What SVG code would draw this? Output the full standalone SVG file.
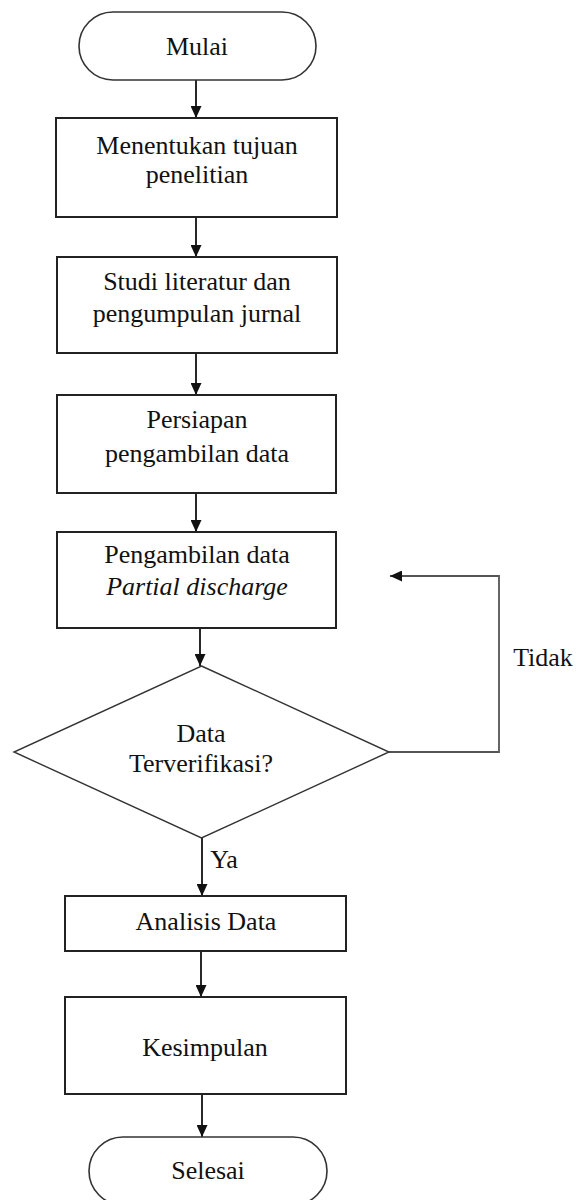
<svg xmlns="http://www.w3.org/2000/svg" width="577" height="1200" viewBox="0 0 577 1200">
<style>
text{font-size:26px;fill:#111;text-anchor:middle}
.box{fill:#fff;stroke:#222;stroke-width:2}
.term{fill:#fff;stroke:#333;stroke-width:1.6}
.dia{fill:#fff;stroke:#333;stroke-width:1.4}
.ln{fill:none;stroke:#111;stroke-width:1.8}
.loop{fill:none;stroke:#555;stroke-width:1.8}
</style>
<defs>
<marker id="ah" markerUnits="userSpaceOnUse" markerWidth="12" markerHeight="11" refX="12" refY="5.5" orient="auto">
<path d="M0,0 L12,5.5 L0,11 z" fill="#111"/>
</marker>
</defs>
<g font-family="'Liberation Serif', 'DejaVu Serif', serif">
<g id="connectors">
<line class="ln" x1="196" y1="80" x2="196" y2="118" marker-end="url(#ah)"/>
<line class="ln" x1="196" y1="217" x2="196" y2="257" marker-end="url(#ah)"/>
<line class="ln" x1="196" y1="353" x2="196" y2="395" marker-end="url(#ah)"/>
<line class="ln" x1="196" y1="493" x2="196" y2="532" marker-end="url(#ah)"/>
<line class="ln" x1="200" y1="628" x2="200" y2="666" marker-end="url(#ah)"/>
<line class="ln" x1="202" y1="838" x2="202" y2="896" marker-end="url(#ah)"/>
<line class="ln" x1="201" y1="951" x2="201" y2="997" marker-end="url(#ah)"/>
<line class="ln" x1="202" y1="1094" x2="202" y2="1137" marker-end="url(#ah)"/>
<polyline class="loop" points="389,752 499,752 499,576 390,576" marker-end="url(#ah)"/>
<text x="224" y="868">Ya</text>
<text x="543" y="666">Tidak</text>
</g>
<g id="mulai">
<rect class="term" x="79" y="12" width="237" height="68" rx="34" ry="34"/>
<text x="197" y="55">Mulai</text>
</g>
<g id="tujuan">
<rect class="box" x="56" y="118" width="281" height="99"/>
<text x="197" y="154">Menentukan tujuan</text>
<text x="197" y="183">penelitian</text>
</g>
<g id="studi">
<rect class="box" x="57" y="257" width="280" height="96"/>
<text x="197" y="290">Studi literatur dan</text>
<text x="197" y="322">pengumpulan jurnal</text>
</g>
<g id="persiapan">
<rect class="box" x="57" y="395" width="279" height="98"/>
<text x="197" y="428">Persiapan</text>
<text x="197" y="462">pengambilan data</text>
</g>
<g id="pengambilan">
<rect class="box" x="57" y="532" width="279" height="96"/>
<text x="197" y="563">Pengambilan data</text>
<text x="197" y="595" font-style="italic">Partial discharge</text>
</g>
<g id="verifikasi">
<polygon class="dia" points="201.5,666 389,752 201.5,838 14,752"/>
<text x="201" y="742">Data</text>
<text x="201" y="772">Terverifikasi?</text>
</g>
<g id="analisis">
<rect class="box" x="65" y="896" width="281" height="55"/>
<text x="206" y="930">Analisis Data</text>
</g>
<g id="kesimpulan">
<rect class="box" x="65" y="997" width="281" height="97"/>
<text x="205" y="1056">Kesimpulan</text>
</g>
<g id="selesai">
<rect class="term" x="89" y="1137" width="238" height="68" rx="34" ry="34"/>
<text x="208" y="1179">Selesai</text>
</g>
</g>
</svg>
